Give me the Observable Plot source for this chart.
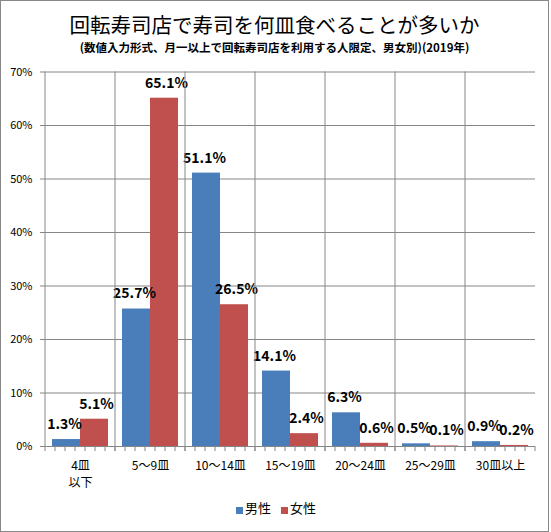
<!DOCTYPE html>
<html><head><meta charset="utf-8">
<script src="https://cdn.jsdelivr.net/npm/d3@7"></script>
<script src="https://cdn.jsdelivr.net/npm/@observablehq/plot@0.6"></script>
<style>
body{margin:0;background:#fff;}
#wrap{position:relative;width:551px;height:532px;overflow:hidden;font-family:"Noto Sans CJK JP","Noto Sans",sans-serif;color:#000;}
#border{position:absolute;left:0;top:0;width:549px;height:532px;border:1px solid #888;box-sizing:border-box;pointer-events:none;}
#title{position:absolute;left:0;width:549px;top:12.5px;text-align:center;font-size:20.5px;line-height:22px;white-space:nowrap;}
#subtitle{position:absolute;left:0;width:549px;top:41px;text-align:center;font-size:11.5px;line-height:13px;font-weight:bold;white-space:nowrap;}
#chart{position:absolute;left:0;top:0;}
#legend{position:absolute;left:236px;top:500px;display:flex;align-items:center;font-size:13px;line-height:16px;}
#legend .sw{display:inline-block;width:7px;height:7px;margin-right:2px;margin-top:4px;}
#legend .item{display:flex;align-items:center;margin-right:10px;}
</style>
</head><body>
<div id="wrap">
  <div id="chart"></div>
  <div id="title"></div>
  <div id="subtitle"></div>
  <div id="legend"></div>
  <div id="border"></div>
</div>
<script>
const titleText = "回転寿司店で寿司を何皿食べることが多いか";
const subtitleText = "(数値入力形式、月一以上で回転寿司店を利用する人限定、男女別)(2019年)";
const categories = ["4皿\n以下","5～9皿","10～14皿","15～19皿","20～24皿","25～29皿","30皿以上"];
const series = ["男性","女性"];
const male = [1.3,25.7,51.1,14.1,6.3,0.5,0.9];
const female = [5.1,65.1,26.5,2.4,0.6,0.1,0.2];
const colors = ["#4a7ebb","#c0504d"];
const yTicks = [0,10,20,30,40,50,60,70];

document.getElementById("title").textContent = titleText;
document.getElementById("subtitle").textContent = subtitleText;

const data = categories.flatMap((c,i)=>[
  {cat:c, sex:series[0], v:male[i]},
  {cat:c, sex:series[1], v:female[i]}
]);

function frameLines(index, scales, values, dimensions) {
  const {marginLeft, marginRight, width} = dimensions;
  const y0 = scales.y(0), y1 = scales.y(yTicks[yTicks.length-1]);
  const n = categories.length;
  const w = (width - marginLeft - marginRight) / n;
  const g = d3.create("svg:g").attr("stroke","#868686").attr("fill","none");
  g.append("line").attr("x1",marginLeft).attr("x2",marginLeft).attr("y1",y1).attr("y2",y0);
  for (let k = 0; k <= n; k++) {
    const x = marginLeft + k*w;
    g.append("line").attr("x1",x).attr("x2",x).attr("y1",y0).attr("y2",y0+5);
  }
  return g.node();
}

const labelOpts = {x: "sex", y: "v", fx: "cat", text: d => d.v.toFixed(1) + "%", dy: -15, fontWeight: "bold", fontSize: 14, fill: "#000"};

const chart = Plot.plot({
  width: 551, height: 532,
  marginTop: 71.5, marginBottom: 86, marginLeft: 45, marginRight: 16,
  style: {fontFamily: '"Noto Sans CJK JP","Noto Sans",sans-serif', background: "transparent", color: "#000"},
  fx: {domain: categories, padding: 0, axis: null, label: null},
  x: {domain: series, paddingInner: 0, paddingOuter: 0.25, axis: null},
  y: {domain: [0,70], axis: null},
  color: {domain: series, range: colors},
  marks: [
    Plot.gridY(yTicks, {stroke: "#868686", strokeOpacity: 1}),
    Plot.axisY(yTicks, {tickSize: 5, tickPadding: 8, tickFormat: d => d + "%", fontSize: 11, stroke: "#868686", label: null}),
    Plot.barY(data, {fx: "cat", x: "sex", y: "v", fill: "sex"}),
    Plot.text(data.filter(d => d.sex === series[0]), {...labelOpts, dx: -2}),
    Plot.text(data.filter(d => d.sex === series[1]), {...labelOpts, dx: 2}),
    Plot.axisFx({anchor: "bottom", tickSize: 0, tickPadding: 11, fontSize: 12, lineHeight: 1.45, label: null}),
    frameLines
  ]
});
document.getElementById("chart").appendChild(chart);

const legend = document.getElementById("legend");
series.forEach((s,i)=>{
  const item = document.createElement("div"); item.className = "item";
  const sw = document.createElement("span"); sw.className = "sw"; sw.style.background = colors[i];
  const t = document.createElement("span"); t.textContent = s;
  item.appendChild(sw); item.appendChild(t); legend.appendChild(item);
});
</script>
</body></html>
